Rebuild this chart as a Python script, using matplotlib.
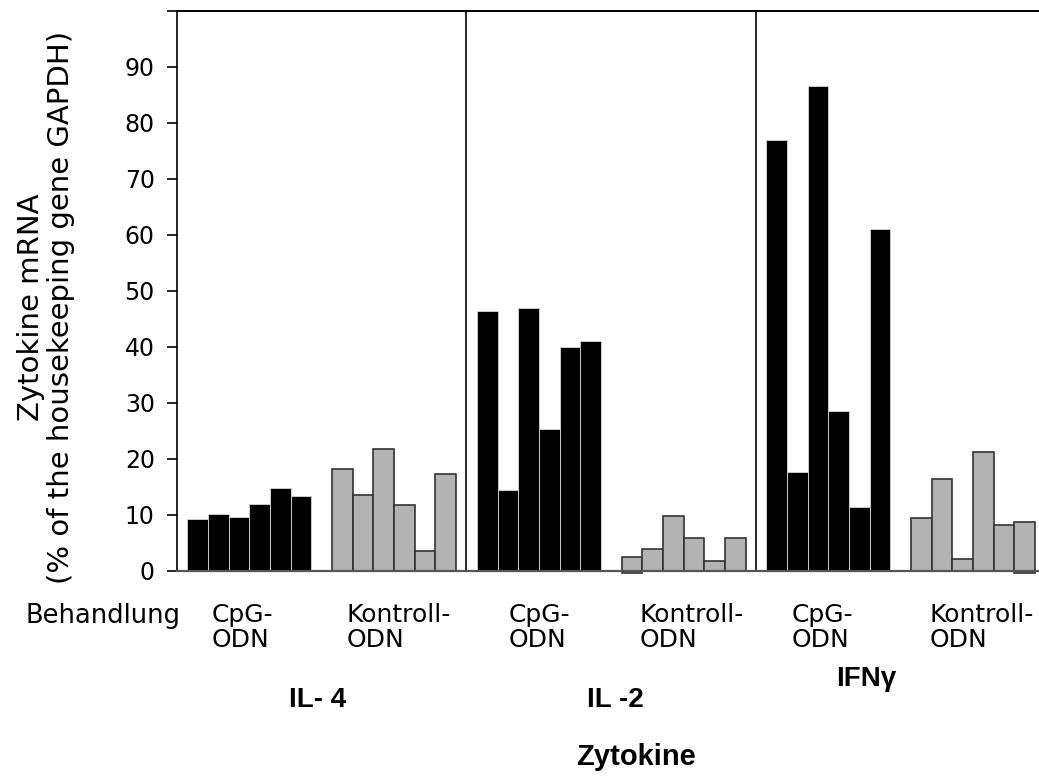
import matplotlib.pyplot as plt
from matplotlib.ticker import FixedLocator, FixedFormatter

# mRNA levels (% of GAPDH), six animals per treatment
cytokines = ["IL- 4", "IL -2", "IFNγ"]
treatments = ["CpG-\nODN", "Kontroll-\nODN"]

cpg_values = [
    [9.2, 10.1, 9.7, 12.0, 14.9, 13.4],     # IL-4
    [46.5, 14.4, 47.0, 25.3, 40.0, 41.0],   # IL-2
    [77.0, 17.7, 86.6, 28.6, 11.5, 61.0],   # IFNg
]
kontroll_values = [
    [18.3, 13.6, 21.7, 11.7, 3.6, 17.3],
    [2.5, 4.0, 9.8, 5.9, 1.7, 5.9],
    [9.4, 16.4, 2.1, 21.2, 8.3, 8.8],
]
# a couple of control bars start slightly below zero
kontroll_base = [
    [0, 0, 0, 0, 0, 0],
    [-0.3, 0, 0, 0, 0, 0],
    [0, 0, 0, 0, 0, -0.4],
]

yticks = [0, 10, 20, 30, 40, 50, 60, 70, 80, 90, 100]
ytick_labels = ["0", "10", "20", "30", "40", "50", "60", "70", "80", "90", ""]

plt.rcParams['font.family'] = ['DejaVu Sans']

fig = plt.figure(figsize=(10.39, 7.76), dpi=100)
# the plot area runs a little past the right edge of the figure
ax = fig.add_axes([0.17035, 0.26418, 0.8359, 0.72165])

w = 1 / 14  # each cytokine block holds 12 bars plus spacing
for k in range(len(cytokines)):
    for i in range(6):
        ax.bar(k + (1 + i) * w, cpg_values[k][i], width=w,
               color='black', edgecolor='#d8d8d8', linewidth=0.6)
        ax.bar(k + (8 + i) * w, kontroll_values[k][i] - kontroll_base[k][i],
               bottom=kontroll_base[k][i], width=w,
               color='#b3b3b3', edgecolor='#333333', linewidth=1.2, clip_on=False)

# separators between cytokines
for k in range(1, len(cytokines)):
    ax.axvline(k, color='black', linewidth=1.2)

ax.set_xlim(0, 3)
ax.set_ylim(0, 100)
ax.yaxis.set_major_locator(FixedLocator(yticks))
ax.yaxis.set_major_formatter(FixedFormatter(ytick_labels))
ax.tick_params(axis='y', direction='out', length=7, width=1.2, pad=9, labelsize=17)
ax.set_xticks([])
ax.spines['left'].set_linewidth(1.2)
ax.spines['top'].set_linewidth(1.4)
ax.spines['bottom'].set_linewidth(1.6)
ax.spines['bottom'].set_color('#555555')
ax.spines['right'].set_visible(False)

# treatment labels under each bar group
label_x = [0.12, 0.586, 1.144, 1.599, 2.123, 2.601]
for j, x in enumerate(label_x):
    ax.text(x, -0.057, treatments[j % 2], transform=ax.get_xaxis_transform(),
            ha='left', va='top', fontsize=18, linespacing=1.05)

fig.text(25 / 1039, 1 - 603 / 776, "Behandlung", ha='left', va='top', fontsize=18.5)

# cytokine names
name_x = [0.487, 1.513, 2.38]
name_y = [-0.231, -0.231, -0.192]
for k, name in enumerate(cytokines):
    ax.text(name_x[k], name_y[k], name, transform=ax.get_xaxis_transform(),
            ha='center', va='center', fontsize=20, fontweight='bold',
            family='Liberation Sans')

fig.text(636 / 1039, 1 - 757 / 776, "Zytokine", ha='center', va='center',
         fontsize=21, fontweight='bold', family='Liberation Sans')

fig.text(46 / 1039, 1 - 307 / 776, "Zytokine mRNA\n(% of the housekeeping gene GAPDH)",
         rotation=90, ha='center', va='center', multialignment='center',
         fontsize=21, linespacing=1.12)

fig.savefig('out.png', dpi=100)
